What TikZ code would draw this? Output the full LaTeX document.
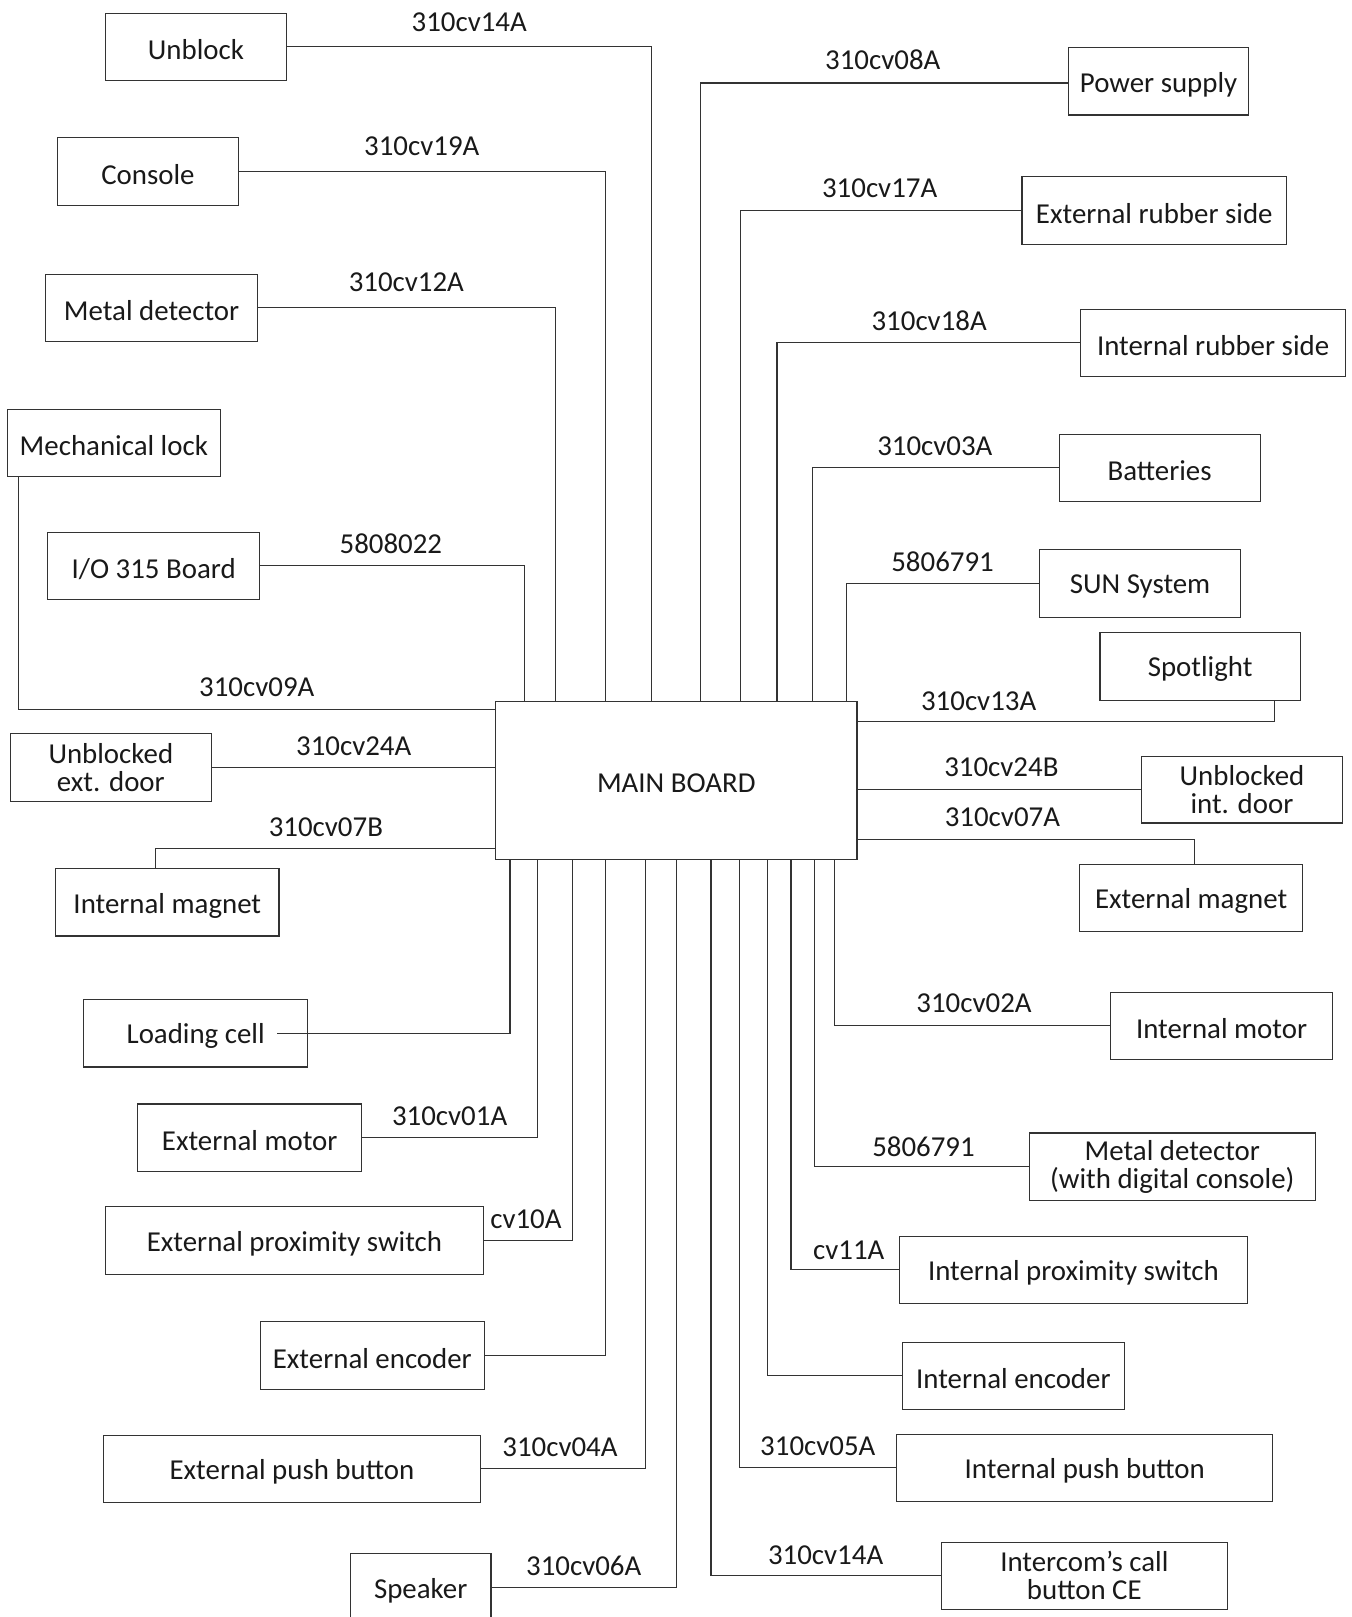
\documentclass[tikz,border=0pt]{standalone}
\usepackage{fontspec}
\setmainfont{Carlito}
\newcommand\dgfont{\fontsize{28}{27}\selectfont}
\tikzset{
  box/.style={draw=black!80, line width=1.1pt, inner sep=0pt, align=center, font=\dgfont, text=black!90},
  wire/.style={draw=black!80, line width=1.1pt},
  lab/.style={inner sep=0pt, font=\dgfont, text=black!90}
}
% single-line box (text lowered slightly as in the reference)
\newcommand\mybox[6]{\node[box, minimum width={#4-#2}, minimum height={#5-#3}] (#1) at ({(#2+#4)/2},{(#3+#5)/2}) {\raisebox{-3pt}[\height][\depth]{#6}};}
% multi-line box
\newcommand\myboxm[6]{\node[box, minimum width={#4-#2}, minimum height={#5-#3}] (#1) at ({(#2+#4)/2},{(#3+#5)/2}) {#6};}
\begin{document}
\begin{tikzpicture}[x=1pt,y=-1pt]
\useasboundingbox (0,0) rectangle (1311,1568);
% main board
\mybox{main}{480.5}{680.4}{831}{833.5}{MAIN BOARD}
% left top
\mybox{unblock}{102}{13}{278}{78}{Unblock}
\mybox{console}{56}{133.5}{231}{199}{Console}
\mybox{metalA}{44}{266}{250}{331}{Metal detector}
\mybox{mlock}{7.4}{397}{213.4}{462}{Mechanical lock}
\mybox{io}{46}{516}{252}{581}{I/O 315 Board}
\myboxm{uext}{10}{711.5}{205}{777}{Unblocked\\ext. door}
\mybox{imag}{54}{842.5}{270.5}{907.6}{Internal magnet}
% left bottom
\mybox{lcell}{81.3}{969.3}{298.2}{1034.6}{Loading cell}
\mybox{emotor}{133.7}{1070.5}{350.6}{1135.8}{External motor}
\mybox{eprox}{102.2}{1170.2}{468.8}{1235.5}{External proximity switch}
\mybox{eenc}{252.4}{1281.6}{469.7}{1347}{External encoder}
\mybox{epush}{100}{1391.7}{466.2}{1457}{External push button}
\mybox{speaker}{339.8}{1506.4}{476.1}{1572}{Speaker}
% right top
\mybox{power}{1036}{46}{1211}{111.5}{Power supply}
\mybox{erub}{991}{171.3}{1247.6}{237}{External rubber side}
\mybox{irub}{1048}{300}{1304.7}{365}{Internal rubber side}
\mybox{batt}{1027}{421}{1222}{486}{Batteries}
\mybox{sun}{1008}{533}{1203}{598.5}{SUN System}
\mybox{spot}{1066.6}{613}{1261}{679}{Spotlight}
\myboxm{uint}{1107}{733.8}{1301.7}{798}{Unblocked\\int. door}
\mybox{emag}{1047}{838.4}{1263}{903.6}{External magnet}
% right bottom
\mybox{imotor}{1076.6}{962}{1292.5}{1027}{Internal motor}
\myboxm{metalB}{998.3}{1098.6}{1275.3}{1164}{Metal detector\\(with digital console)}
\mybox{iprox}{872.3}{1198.7}{1209.5}{1264}{Internal proximity switch}
\mybox{ienc}{874.8}{1301.7}{1090.5}{1366.6}{Internal encoder}
\mybox{ipush}{869.7}{1391}{1234.2}{1455.7}{Internal push button}
\myboxm{icom}{913}{1495.5}{1190}{1560.5}{Intercom’s call\\button CE}

% vertical positions of wires
\coordinate (vio) at (509,0);
\coordinate (vmA) at (538.5,0);
\coordinate (vcon) at (587,0);
\coordinate (vunb) at (632,0);
\coordinate (vpow) at (679.5,0);
\coordinate (verub) at (718,0);
\coordinate (virub) at (753.5,0);
\coordinate (vbatt) at (787.5,0);
\coordinate (vsun) at (820.5,0);
\coordinate (vlc) at (494.5,0);
\coordinate (vem) at (521,0);
\coordinate (vep) at (555,0);
\coordinate (vee) at (587,0);
\coordinate (vepb) at (626,0);
\coordinate (vspk) at (656,0);
\coordinate (vic) at (689.5,0);
\coordinate (vipb) at (717.5,0);
\coordinate (vie) at (744,0);
\coordinate (vip) at (767,0);
\coordinate (vmB) at (789.5,0);
\coordinate (vim) at (809,0);
\coordinate (c09) at (17.7,688.3);
\coordinate (c07b) at (151,822.6);
\coordinate (c13) at (1236,700);
\coordinate (c07a) at (1158.5,814);
\coordinate (lcs) at (269,0);

% wires top
\draw[wire] (unblock.east) -| (vunb |- main.north);
\draw[wire] (console.east) -| (vcon |- main.north);
\draw[wire] (metalA.east) -| (vmA |- main.north);
\draw[wire] (io.east) -| (vio |- main.north);
\draw[wire] ([yshift=-1.7pt]power.west) -| (vpow |- main.north);
\draw[wire] (erub.west) -| (verub |- main.north);
\draw[wire] (irub.west) -| (virub |- main.north);
\draw[wire] (batt.west) -| (vbatt |- main.north);
\draw[wire] (sun.west) -| (vsun |- main.north);
% wires sides
\draw[wire] (mlock.south -| c09) |- (main.west |- c09);
\draw[wire] (uext.east) -- (main.west |- uext.east);
\draw[wire] (imag.north -| c07b) |- (main.west |- c07b);
\draw[wire] (spot.south -| c13) |- (main.east |- c13);
\draw[wire] (uint.west) -- (main.east |- uint.west);
\draw[wire] (emag.north -| c07a) |- (main.east |- c07a);
% wires bottom
\draw[wire] (main.south -| vlc) |- (lcs |- lcell.center);
\draw[wire] (main.south -| vem) |- (emotor.east);
\draw[wire] (main.south -| vep) |- (eprox.east);
\draw[wire] (main.south -| vee) |- (eenc.east);
\draw[wire] (main.south -| vepb) |- (epush.east);
\draw[wire] (main.south -| vspk) |- (speaker.east);
\draw[wire] (main.south -| vic) |- (icom.west);
\draw[wire] (main.south -| vipb) |- (ipush.west);
\draw[wire] (main.south -| vie) |- (ienc.west);
\draw[wire] (main.south -| vip) |- (iprox.west);
\draw[wire] (main.south -| vmB) |- (metalB.west);
\draw[wire] (main.south -| vim) |- (imotor.west);

% labels
\node[lab] (l1) at (455,22) {310cv14A};
\node[lab] (l2) at (409,142) {310cv19A};
\node[lab] (l3) at (394,274) {310cv12A};
\node[lab] (l4) at (379,527) {5808022};
\node[lab] (l5) at (249,666) {310cv09A};
\node[lab] (l6) at (343,724) {310cv24A};
\node[lab] (l7) at (316,802) {310cv07B};
\node[lab] (l8) at (856,58) {310cv08A};
\node[lab] (l9) at (853,183) {310cv17A};
\node[lab] (l10) at (901,311) {310cv18A};
\node[lab] (l11) at (906.5,433) {310cv03A};
\node[lab] (l12) at (914,545) {5806791};
\node[lab] (l13) at (949,680) {310cv13A};
\node[lab] (l14) at (971,744) {310cv24B};
\node[lab] (l15) at (972,792) {310cv07A};
\node[lab] (l16) at (944.5,973) {310cv02A};
\node[lab] (l17) at (895.5,1112) {5806791};
\node[lab] (l18) at (823,1212) {cv11A};
\node[lab] (l19) at (793,1402) {310cv05A};
\node[lab] (l20) at (800.6,1508) {310cv14A};
\node[lab] (l21) at (436,1082) {310cv01A};
\node[lab] (l22) at (510,1182) {cv10A};
\node[lab] (l23) at (543,1403) {310cv04A};
\node[lab] (l24) at (566,1518) {310cv06A};
\end{tikzpicture}
\end{document}
